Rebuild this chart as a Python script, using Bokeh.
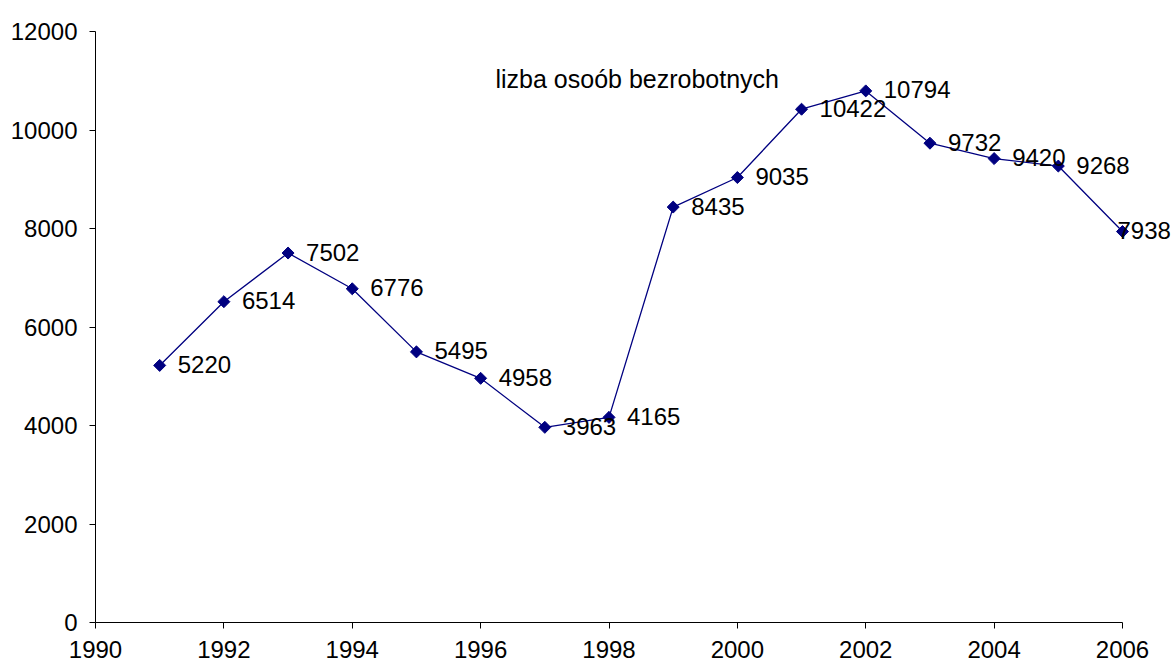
from bokeh.plotting import figure
from bokeh.models import ColumnDataSource, Label, FixedTicker, Range1d, LabelSet
from bokeh.core.properties import value
from bokeh.embed import file_html
from bokeh.resources import INLINE
import math

years = [1991, 1992, 1993, 1994, 1995, 1996, 1997, 1998, 1999, 2000, 2001, 2002, 2003, 2004, 2005, 2006]
values = [5220, 6514, 7502, 6776, 5495, 4958, 3963, 4165, 8435, 9035, 10422, 10794, 9732, 9420, 9268, 7938]
labels = [str(v) for v in values]
x_ticks = [1990, 1992, 1994, 1996, 1998, 2000, 2002, 2004, 2006]
y_ticks = [0, 2000, 4000, 6000, 8000, 10000, 12000]
title_text = "lizba osoób bezrobotnych"

FONT = "Liberation Sans"
NAVY = "#000080"
FS = "24px"

offsets = [18] * len(years)
offsets[-1] = -5

src = ColumnDataSource(dict(x=years, y=values, lab=labels, xo=offsets))

# frame: left 95, top 31, 1027px for 16 years -> extend range to show the last label
px_per_year = 1027 / 16.0
extra_px = 48
x_end = 2006 + extra_px / px_per_year

p = figure(width=1172, height=666, output_backend="svg", toolbar_location=None,
           x_range=Range1d(1990, x_end), y_range=Range1d(0, 12000),
           min_border_left=95, min_border_right=2, min_border_top=31, min_border_bottom=44)
p.outline_line_color = None
p.xgrid.visible = False
p.ygrid.visible = False
p.background_fill_color = "white"
p.border_fill_color = "white"

for ax in (p.xaxis[0], p.yaxis[0]):
    ax.axis_line_color = "black"
    ax.axis_line_width = 1
    ax.major_tick_line_color = "black"
    ax.major_tick_out = 6
    ax.major_tick_in = 0
    ax.minor_tick_line_color = None
    ax.major_label_text_font = FONT
    ax.major_label_text_font_size = FS
    ax.major_label_text_color = "black"

p.xaxis[0].ticker = FixedTicker(ticks=x_ticks)
p.xaxis[0].bounds = (1990, 2006)
p.yaxis[0].ticker = FixedTicker(ticks=y_ticks)
p.xaxis[0].major_label_standoff = 12
p.yaxis[0].major_label_standoff = 12

p.line("x", "y", source=src, line_color=NAVY, line_width=1.3)
p.scatter("x", "y", source=src, marker="square", angle=math.pi / 4, size=8.5,
          fill_color=NAVY, line_color=NAVY)

ls = LabelSet(x="x", y="y", text="lab", source=src, x_offset="xo", y_offset=1,
              text_font=value(FONT), text_font_size=value(FS), text_color="black",
              text_baseline="middle", text_align="left")
p.add_layout(ls)

p.add_layout(Label(x=400, y=544, x_units="screen", y_units="screen", text=title_text,
                   text_font=FONT, text_font_size="25px", text_color="black",
                   text_baseline="middle", text_align="left"))

open("out.html", "w").write(file_html(p, INLINE))
